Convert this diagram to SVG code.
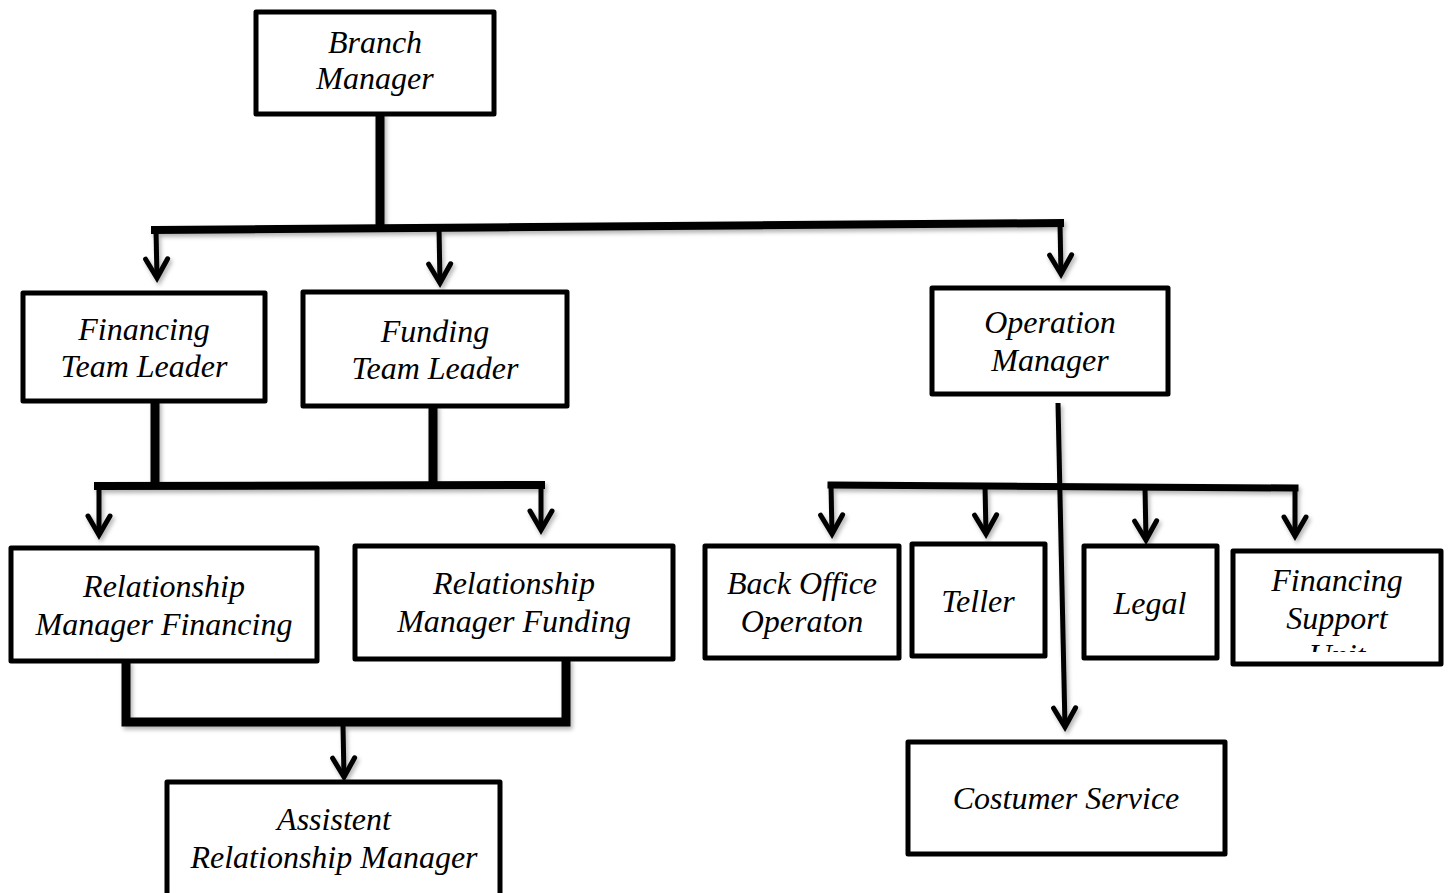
<svg xmlns="http://www.w3.org/2000/svg" width="1450" height="893" viewBox="0 0 1450 893">
  <style>
    .box { fill: #fff; stroke: #000; stroke-width: 5; stroke-linejoin: round; }
    .t { font-family: "Liberation Serif", "Times New Roman", serif; font-style: italic; font-size: 32px; fill: #000; text-anchor: middle; }
    .bar { stroke: #000; fill: none; stroke-linecap: square; }
    .shaft { stroke: #000; stroke-width: 5; fill: none; marker-end: url(#arr); }
  </style>
  <defs>
    <marker id="arr" markerUnits="userSpaceOnUse" markerWidth="40" markerHeight="40" refX="0" refY="0" orient="auto" overflow="visible">
      <path d="M-19,-11 L0,0 L-19,11" fill="none" stroke="#000" stroke-width="5" stroke-linejoin="miter" stroke-linecap="round"/>
    </marker>
    <filter id="sh" x="-5%" y="-5%" width="110%" height="110%">
      <feDropShadow dx="2" dy="3" stdDeviation="2" flood-color="#000" flood-opacity="0.3"/>
    </filter>
    <clipPath id="fsuClip">
      <rect x="1234" y="552" width="206" height="100"/>
    </clipPath>
  </defs>
  <rect width="1450" height="893" fill="#fff"/>

  <g id="connectors" filter="url(#sh)">
    <!-- Branch Manager to level 2 -->
    <line class="bar" x1="380" y1="117" x2="380" y2="226" stroke-width="9"/>
    <line class="bar" x1="155" y1="230" x2="1060" y2="223" stroke-width="8"/>
    <line class="shaft" x1="156" y1="230" x2="157" y2="278"/>
    <line class="shaft" x1="439" y1="228" x2="440" y2="283"/>
    <line class="shaft" x1="1060" y1="223" x2="1061" y2="274"/>

    <!-- Team leaders to relationship managers -->
    <line class="bar" x1="155" y1="404" x2="155" y2="483" stroke-width="9"/>
    <line class="bar" x1="433" y1="409" x2="433" y2="483" stroke-width="9"/>
    <line class="bar" x1="98" y1="486" x2="541" y2="485" stroke-width="8"/>
    <line class="shaft" x1="99" y1="486" x2="99" y2="535"/>
    <line class="shaft" x1="541" y1="485" x2="541" y2="530"/>

    <!-- Relationship managers to assistent -->
    <polyline class="bar" points="126,665 126,722 566,722 566,663" stroke-width="9" stroke-linecap="butt" stroke-linejoin="miter"/>
    <line class="shaft" x1="343" y1="726" x2="344" y2="777"/>

    <!-- Operation manager -->
    <line class="shaft" x1="1058" y1="403" x2="1065" y2="727"/>
    <line class="bar" x1="831" y1="485" x2="1295" y2="488" stroke-width="7"/>
    <line class="shaft" x1="831" y1="485" x2="832" y2="534"/>
    <line class="shaft" x1="985" y1="486" x2="986" y2="534"/>
    <line class="shaft" x1="1145" y1="487" x2="1146" y2="540"/>
    <line class="shaft" x1="1295" y1="488" x2="1295" y2="536"/>
  </g>

  <g id="branch-manager">
    <rect class="box" x="256" y="12" width="238" height="102"/>
    <text class="t" x="375" y="53">Branch</text>
    <text class="t" x="375" y="89">Manager</text>
  </g>

  <g id="financing-team-leader">
    <rect class="box" x="23" y="293" width="242" height="108"/>
    <text class="t" x="144" y="340">Financing</text>
    <text class="t" x="144" y="377">Team Leader</text>
  </g>

  <g id="funding-team-leader">
    <rect class="box" x="303" y="292" width="264" height="114"/>
    <text class="t" x="435" y="342">Funding</text>
    <text class="t" x="435" y="379">Team Leader</text>
  </g>

  <g id="operation-manager">
    <rect class="box" x="932" y="288" width="236" height="106"/>
    <text class="t" x="1050" y="333">Operation</text>
    <text class="t" x="1050" y="371">Manager</text>
  </g>

  <g id="relationship-manager-financing">
    <rect class="box" x="11" y="548" width="306" height="113"/>
    <text class="t" x="164" y="597">Relationship</text>
    <text class="t" x="164" y="635">Manager Financing</text>
  </g>

  <g id="relationship-manager-funding">
    <rect class="box" x="355" y="546" width="318" height="113"/>
    <text class="t" x="514" y="594">Relationship</text>
    <text class="t" x="514" y="632">Manager Funding</text>
  </g>

  <g id="assistent-relationship-manager">
    <rect class="box" x="167" y="782" width="333" height="130"/>
    <text class="t" x="334" y="830">Assistent</text>
    <text class="t" x="334" y="868">Relationship Manager</text>
  </g>

  <g id="back-office-operaton">
    <rect class="box" x="705" y="546" width="194" height="112"/>
    <text class="t" x="802" y="594">Back Office</text>
    <text class="t" x="802" y="632">Operaton</text>
  </g>

  <g id="teller">
    <rect class="box" x="912" y="544" width="133" height="112"/>
    <text class="t" x="978" y="612">Teller</text>
  </g>

  <g id="legal">
    <rect class="box" x="1084" y="546" width="133" height="112"/>
    <text class="t" x="1150" y="614">Legal</text>
  </g>

  <g id="financing-support-unit">
    <rect class="box" x="1233" y="551" width="208" height="113"/>
    <g clip-path="url(#fsuClip)">
      <text class="t" x="1337" y="591">Financing</text>
      <text class="t" x="1337" y="629">Support</text>
      <text class="t" x="1337" y="666">Unit</text>
    </g>
  </g>

  <g id="costumer-service">
    <rect class="box" x="908" y="742" width="317" height="112"/>
    <text class="t" x="1066" y="809">Costumer Service</text>
  </g>
</svg>
